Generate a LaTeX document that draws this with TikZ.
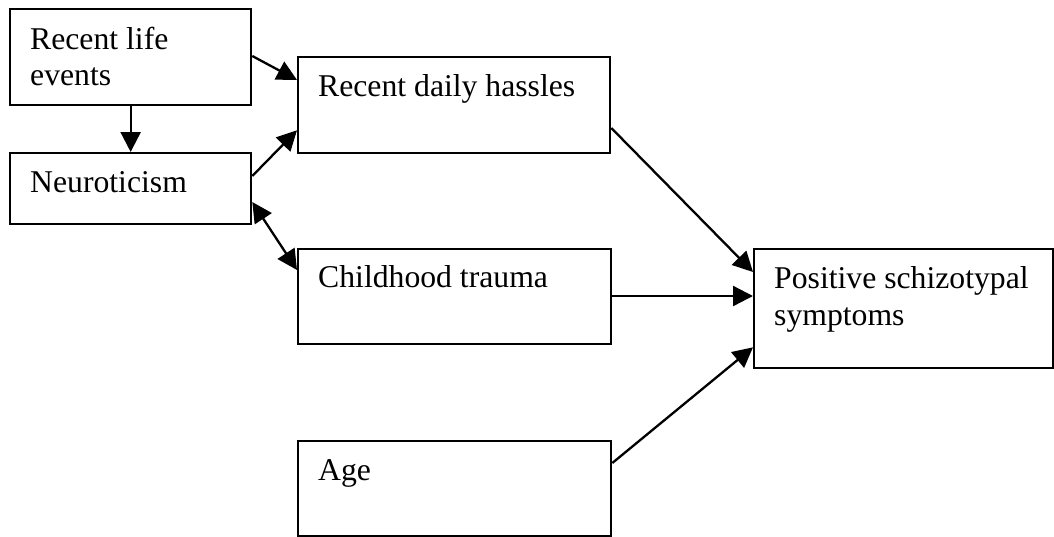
\documentclass[tikz,border=0pt]{standalone}
\usepackage{fontspec}
\setmainfont{Liberation Serif}
\usetikzlibrary{arrows.meta,calc}
\begin{document}
\begin{tikzpicture}[x=1pt,y=-1pt,
  box/.style={draw,line width=2.3pt,inner sep=0pt,anchor=north west},
  lbl/.style={anchor=base west,inner sep=0pt,align=left,
    font=\fontsize{31.7}{36.5}\selectfont},
  tip/.style={Triangle[length=20pt,width=20pt]},
  link/.style={line width=2.3pt,-{Triangle[length=20pt,width=20pt]}},
  dlink/.style={line width=2.3pt,{Triangle[length=20pt,width=20pt]}-{Triangle[length=20pt,width=20pt]}}]
\useasboundingbox (0,0) rectangle (1054,536);

% boxes
\node[box,minimum width=241pt,minimum height=96pt] (rle) at (9,8) {};
\node[box,minimum width=241pt,minimum height=71pt] (neu) at (9,152) {};
\node[box,minimum width=312pt,minimum height=96pt] (hass) at (297,56) {};
\node[box,minimum width=313pt,minimum height=95pt] (child) at (297,248) {};
\node[box,minimum width=313pt,minimum height=95pt] (age) at (297,440) {};
\node[box,minimum width=299pt,minimum height=119pt] (pos) at (753,248) {};

% texts (base anchor of a two-line node sits on its last line)
\node[lbl] (trle) at ($(rle.north west)+(21,77.5)$) {Recent life\\events};
\node[lbl] (tneu) at ($(neu.north west)+(21,40)$) {Neuroticism};
\node[lbl] (thass) at ($(hass.north west)+(21,40)$) {Recent daily hassles};
\node[lbl] (tchild) at ($(child.north west)+(21,39)$) {Childhood trauma};
\node[lbl] (tage) at ($(age.north west)+(21,40)$) {Age};
\node[lbl] (tpos) at ($(pos.north west)+(21,77)$) {Positive schizotypal\\symptoms};

% paths
\draw[link] ($(rle.north east)+(0,48)$) -- ($(hass.north west)+(0,24)$);
\draw[link] (rle.south) -- (neu.north);
\draw[link] ($(neu.north east)+(0,24)$) -- ($(hass.south west)+(0,-24)$);
\draw[dlink] ($(neu.north east)+(0,50)$) -- ($(child.north west)+(0,22)$);
\draw[link] ($(hass.north east)+(0,72)$) -- ($(pos.north west)+(0,24)$);
\draw[link] ($(child.north east)+(0,48)$) -- ($(pos.north west)+(0,48)$);
\draw[link] ($(age.north east)+(0,23)$) -- ($(pos.south west)+(0,-22)$);
\end{tikzpicture}
\end{document}
